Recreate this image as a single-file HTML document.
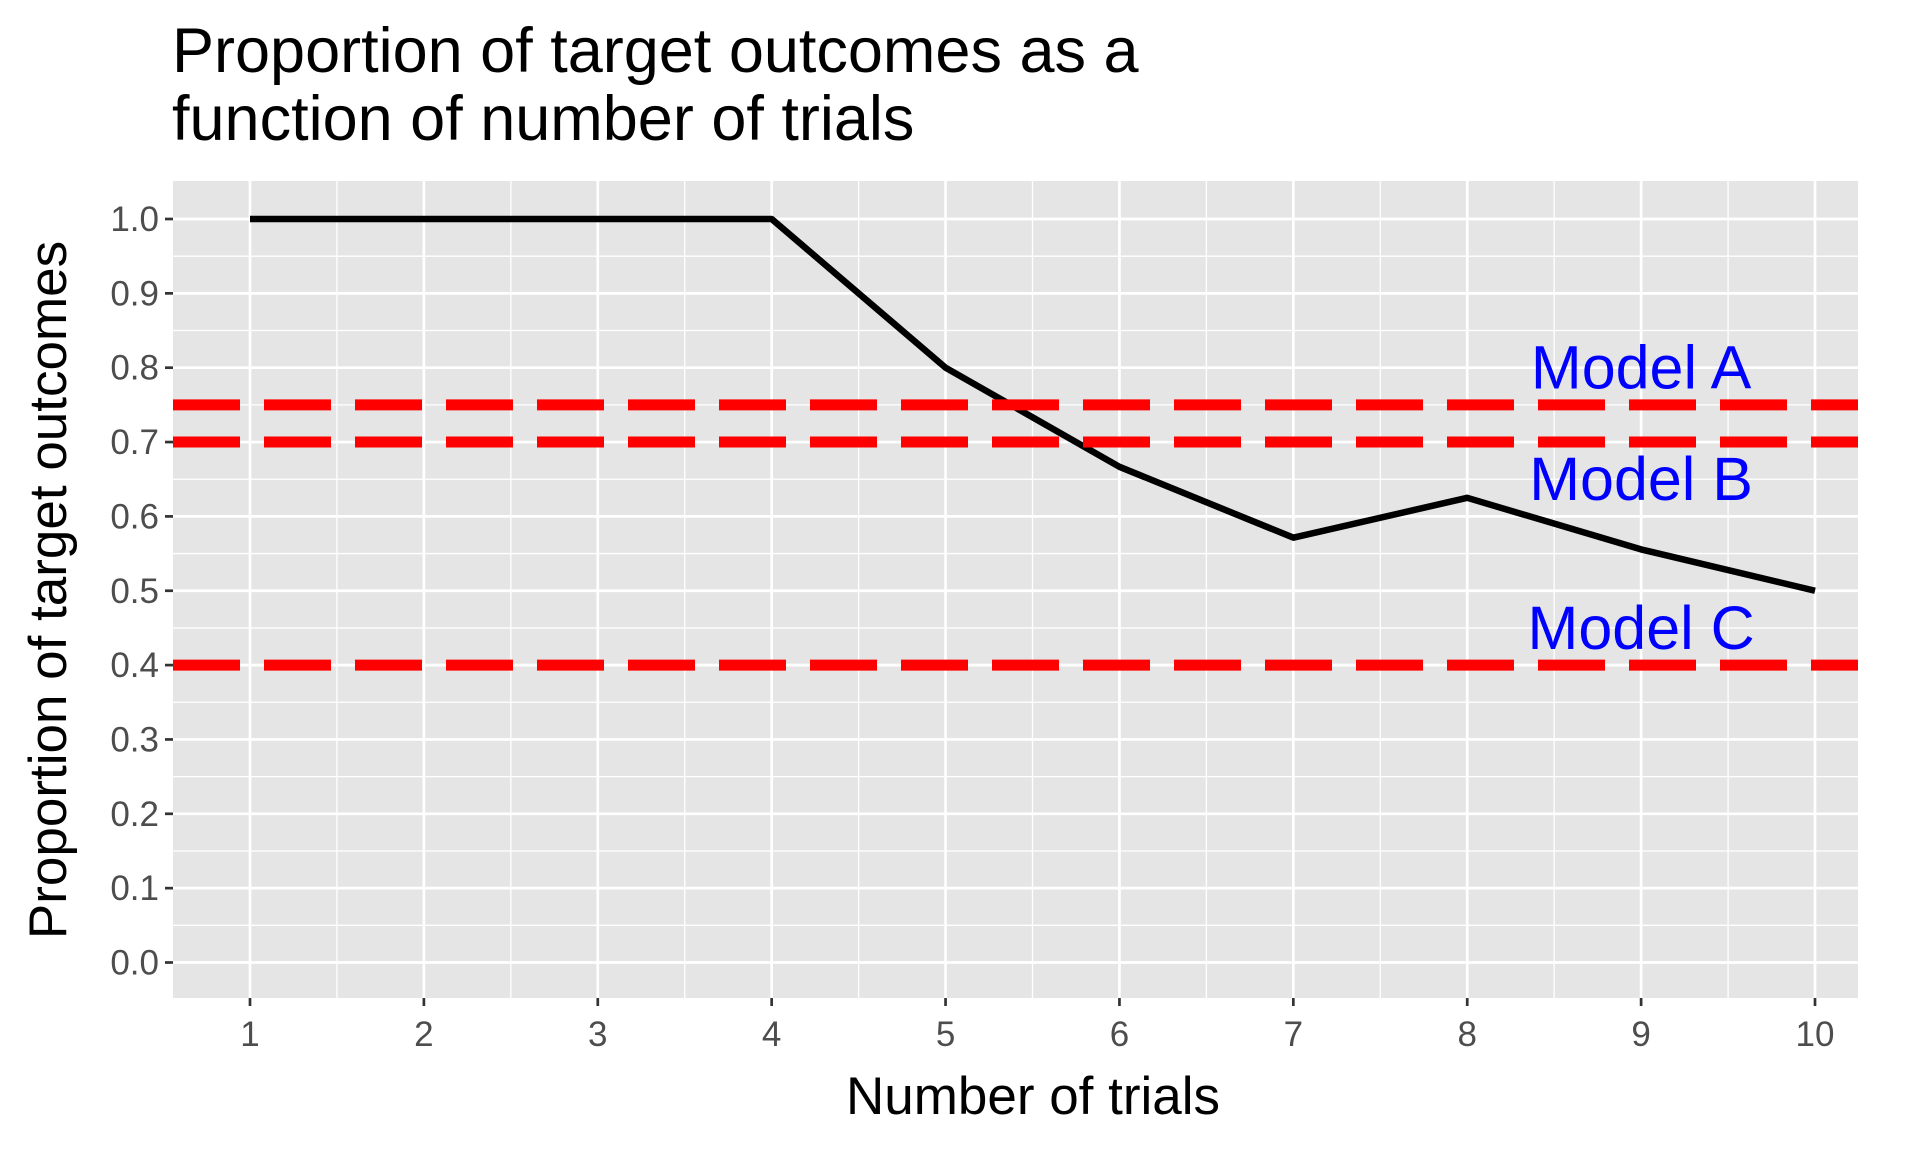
<!DOCTYPE html>
<html><head><meta charset="utf-8"><style>
body{margin:0;background:#fff;}
svg text{font-family:"Liberation Sans",Arial,sans-serif;}
</style></head><body>
<svg id="chart" width="1920" height="1152" viewBox="0 0 1920 1152" xmlns="http://www.w3.org/2000/svg">
<text x="172" y="72" font-size="63" fill="#000">Proportion of target outcomes as a</text>
<text x="172" y="140" font-size="63" fill="#000">function of number of trials</text>
<rect x="173" y="181" width="1685" height="817" fill="#e5e5e5"/>
<g id="grid"></g>
<g id="marks"></g>
<g id="axes"></g>
<text x="1033" y="1114" font-size="53" text-anchor="middle" fill="#000">Number of trials</text>
<text transform="translate(66,590) rotate(-90)" font-size="53" text-anchor="middle" fill="#000">Proportion of target outcomes</text>
</svg>
<script>
const trials=[1,2,3,4,5,6,7,8,9,10];
const proportions=[1,1,1,1,0.8,0.6667,0.5714,0.625,0.5556,0.5];
const modelNames=["Model A","Model B","Model C"];
const modelValues=[0.75,0.7,0.4];
const modelLabelY=[0.8,0.65,0.45];
const modelLabelX=[9,9,9];
const yTicks=[0,0.1,0.2,0.3,0.4,0.5,0.6,0.7,0.8,0.9,1.0];
const xTicks=[1,2,3,4,5,6,7,8,9,10];

const NS="http://www.w3.org/2000/svg";
const L=173,R=1858,T=181,B=998;
const xs=v=>250+(v-1)*(1815-250)/9;
const ys=v=>962.5-v*(962.5-219);
function mk(tag,attrs,parent){const e=document.createElementNS(NS,tag);for(const k in attrs)e.setAttribute(k,attrs[k]);document.getElementById(parent).appendChild(e);return e;}
for(let i=0;i<yTicks.length-1;i++){const v=(yTicks[i]+yTicks[i+1])/2;
 const e=mk('line',{x1:L,x2:R,y1:ys(v),y2:ys(v),stroke:'#fff','stroke-width':1.3},'grid');
 
 }
for(let i=0;i<xTicks.length-1;i++){const v=xTicks[i]+0.5;
 const e=mk('line',{y1:T,y2:B,x1:xs(v),x2:xs(v),stroke:'#fff','stroke-width':1.3},'grid');
 
 }
yTicks.forEach(v=>{const e=mk('line',{x1:L,x2:R,y1:ys(v),y2:ys(v),stroke:'#fff','stroke-width':2.7},'grid');
 
 
 const t=mk('line',{x1:L-8,x2:L,y1:ys(v),y2:ys(v),stroke:'#333','stroke-width':2.7},'axes');
 
 
 const l=mk('text',{x:L-14,y:ys(v)+12,'font-size':35,'text-anchor':'end',fill:'#4d4d4d'},'axes');
 l.textContent=v.toFixed(1);
 
 });
xTicks.forEach(v=>{const e=mk('line',{y1:T,y2:B,x1:xs(v),x2:xs(v),stroke:'#fff','stroke-width':2.7},'grid');
 
 
 const t=mk('line',{y1:B,y2:B+8,x1:xs(v),x2:xs(v),stroke:'#333','stroke-width':2.7},'axes');
 
 
 const l=mk('text',{x:xs(v),y:B+48,'font-size':35,'text-anchor':'middle',fill:'#4d4d4d'},'axes');
 l.textContent=v;
 
 });
const pts=trials.map((t,i)=>xs(t)+','+ys(proportions[i])).join(' ');
const pl=mk('polyline',{points:pts,fill:'none',stroke:'#000','stroke-width':6.5,'stroke-linejoin':'round'},'marks');


modelValues.forEach((v,i)=>{
 const h=mk('line',{x1:L,x2:R,y1:ys(v),y2:ys(v),stroke:'#ff0000','stroke-width':11,'stroke-dasharray':'67 24'},'marks');
 
 
 const t=mk('text',{x:xs(modelLabelX[i]),y:ys(modelLabelY[i])+21,'font-size':61,'text-anchor':'middle',fill:'#0000ff'},'marks');
 t.textContent=modelNames[i];
 
 
});
</script>
</body></html>
